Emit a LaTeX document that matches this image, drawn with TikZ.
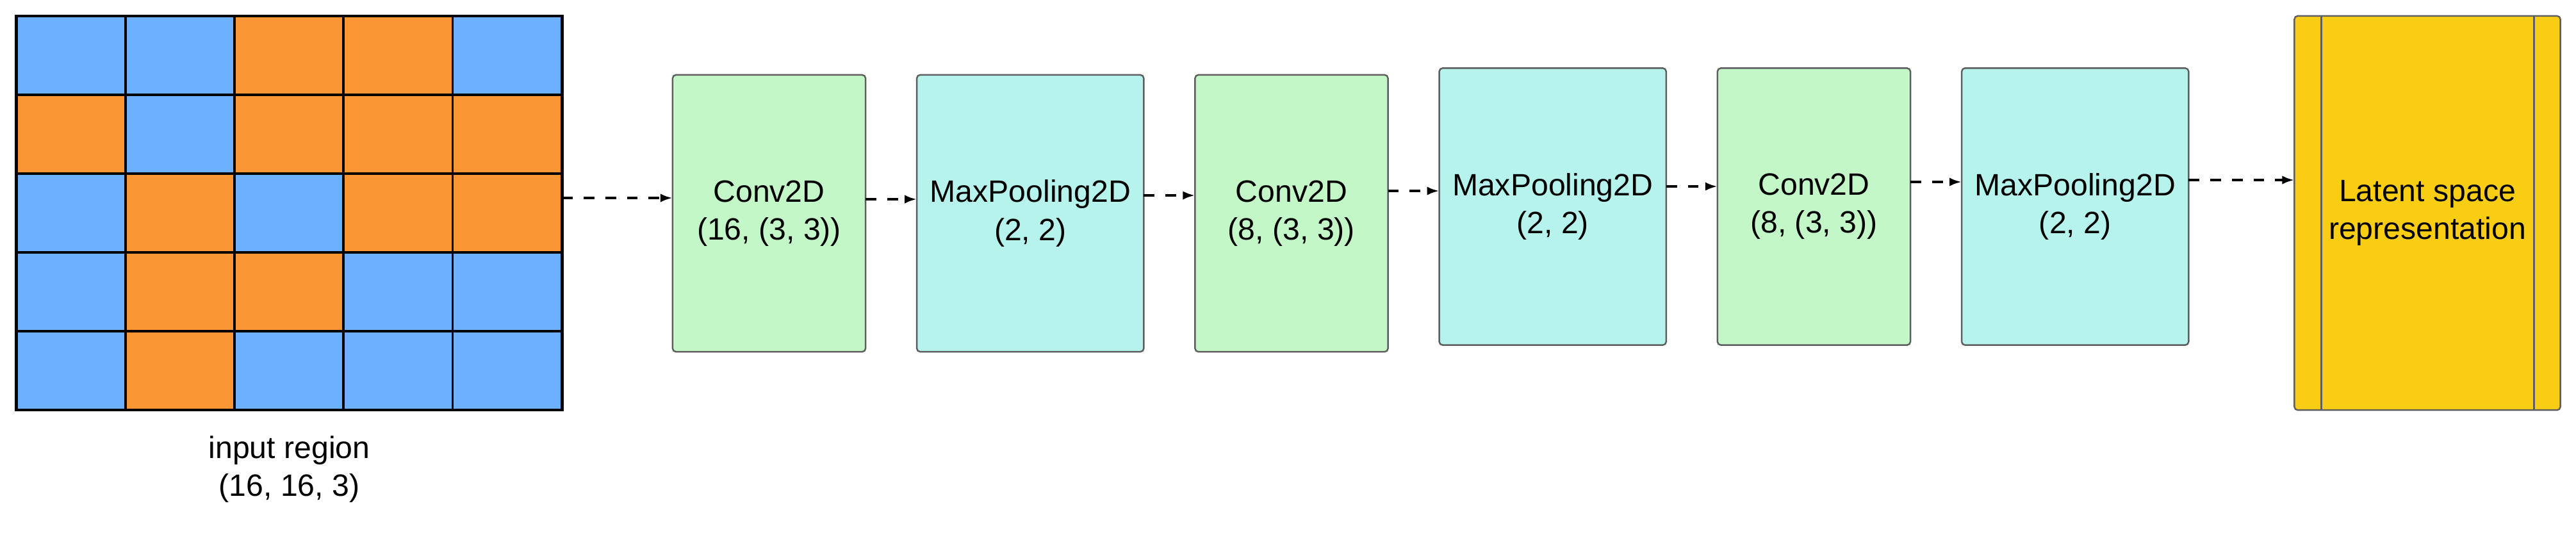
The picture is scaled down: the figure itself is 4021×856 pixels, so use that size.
\documentclass[tikz,border=0pt]{standalone}
\usepackage{fontspec}
\setmainfont{Liberation Sans}
\usetikzlibrary{arrows.meta,positioning,calc}
\definecolor{cellb}{RGB}{108,176,255}
\definecolor{cello}{RGB}{251,150,52}
\definecolor{convgreen}{RGB}{195,247,200}
\definecolor{poolcyan}{RGB}{181,243,236}
\definecolor{latentyellow}{RGB}{250,205,21}
\definecolor{edgegray}{RGB}{94,94,94}

\tikzset{
  layer/.style={draw=edgegray,line width=0.7pt,rounded corners=1.5pt,align=center,inner sep=0pt,outer sep=0pt,minimum height=4.32cm},
  conv/.style={layer,fill=convgreen,minimum width=3.01cm},
  pool/.style={layer,fill=poolcyan,minimum width=3.54cm},
  latent/.style={layer,fill=latentyellow,minimum width=4.15cm,minimum height=6.15cm},
  flow/.style={line width=1.15pt,dash pattern=on 4.8pt off 4.8pt,-{Latex[length=5.4pt,width=3.8pt]}},
}

\begin{document}
\begin{tikzpicture}[x=0.01cm,y=-0.01cm,font=\fontsize{13.7pt}{16.8pt}\selectfont]
  \useasboundingbox (0,0) rectangle (4021,856);

  % input region grid
  \node[minimum width=8.51cm,minimum height=6.15cm,inner sep=0pt,outer sep=0pt] (grid) at (451.5,332.5) {};
  \foreach \c [count=\k from 0] in {b,b,o,o,b, o,b,o,o,o, b,o,b,o,o, b,o,o,b,b, b,o,b,b,b} {
    \pgfmathtruncatemacro{\col}{mod(\k,5)}
    \pgfmathtruncatemacro{\row}{div(\k,5)}
    \fill[cell\c] ($(grid.north west)+(\col*170.2,\row*123)$) rectangle ++(170.2,123);
  }
  \foreach \i in {1,...,4} {
    \draw[line width=1.1pt] ($(grid.north west)+(\i*170.2,0)$) -- ($(grid.south west)+(\i*170.2,0)$);
    \draw[line width=1.1pt] ($(grid.north west)+(0,\i*123)$) -- ($(grid.north east)+(0,\i*123)$);
  }
  \draw[line width=1.3pt] (grid.north west) rectangle (grid.south east);
  \node[align=center,inner sep=0pt,below=0.4cm of grid] (inlabel) {input region\\(16, 16, 3)};

  % encoder layers
  \node[conv] (c1) at (1200.5,333) {Conv2D\\(16, (3, 3))};
  \node[pool,right=0.8cm of c1] (p1) {MaxPooling2D\\(2, 2)};
  \node[conv,right=0.8cm of p1] (c2) {Conv2D\\(8, (3, 3))};
  \node[pool,right=0.8cm of c2,yshift=0.105cm] (p2) {MaxPooling2D\\(2, 2)};
  \node[conv,right=0.8cm of p2] (c3) {Conv2D\\(8, (3, 3))};
  \node[pool,right=0.8cm of c3] (p3) {MaxPooling2D\\(2, 2)};

  % latent space
  \node[latent,right=1.65cm of p3,yshift=-0.1cm] (lat) {Latent space\\representation};
  \draw[edgegray,line width=0.7pt] ($(lat.north west)+(42,0)$) -- ($(lat.south west)+(42,0)$);
  \draw[edgegray,line width=0.7pt] ($(lat.north east)+(-41,0)$) -- ($(lat.south east)+(-41,0)$);

  % dashed connectors
  \foreach \src/\dst/\dy in {grid/c1/-23.5, c1/p1/-22, p1/c2/-28, c2/p2/-35, p2/c3/-31.5, c3/p3/-38.5, p3/lat/-41.5} {
    \coordinate (s) at ($(\src.east)+(0,\dy)$);
    \draw[flow] (s) -- (s -| \dst.west);
  }
\end{tikzpicture}
\end{document}
